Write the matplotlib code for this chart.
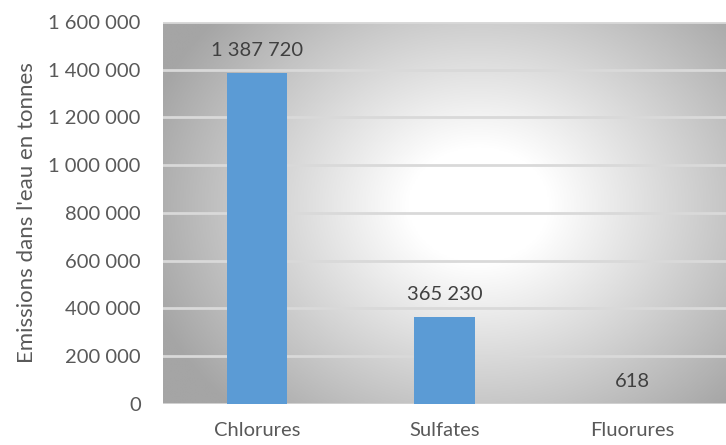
import numpy as np
import matplotlib.pyplot as plt
from matplotlib.colors import LinearSegmentedColormap

categories = ["Chlorures", "Sulfates", "Fluorures"]
emissions = [1387720, 365230, 618]
y_ticks = [0, 200000, 400000, 600000, 800000, 1000000, 1200000, 1400000, 1600000]


def fmt(v):
    return f"{v:,}".replace(",", " ")


plt.rcParams["font.family"] = ["Lato", "DejaVu Sans"]
text_col = "#595959"

fig = plt.figure(figsize=(7.26, 4.45), dpi=100)
ax = fig.add_axes([0.2245, 0.092, 0.7755, 0.859])

# fond en dégradé radial (blanc au centre, gris sur les bords)
nx, ny = 400, 300
gx, gy = np.meshgrid(np.linspace(0, 1, nx), np.linspace(0, 1, ny))
d = np.sqrt(((gx - 0.56) / 0.62) ** 2 + ((gy - 0.52) / 0.75) ** 2)
d = np.clip((d - 0.2) / 0.8, 0, 1)
cmap = LinearSegmentedColormap.from_list("bg", ["#ffffff", "#a5a5a5"])
ax.imshow(d, cmap=cmap, vmin=0, vmax=1, extent=[0, 1, 0, 1], origin="lower",
          transform=ax.transAxes, aspect="auto", zorder=0, interpolation="bilinear")

x = np.arange(len(categories))
bars = ax.bar(x, emissions, width=0.32, color="#5b9bd5", zorder=3)

for b, v in zip(bars, emissions):
    ax.annotate(fmt(v), (b.get_x() + b.get_width() / 2, v), xytext=(0, 10),
                textcoords="offset points", ha="center", va="bottom",
                fontsize=14.5, color="#404040", zorder=4)

ax.set_xlim(-0.5, 2.5)
ax.set_ylim(0, 1600000)
ax.set_yticks(y_ticks)
ax.set_yticklabels([fmt(t) for t in y_ticks])
ax.set_xticks(x)
ax.set_xticklabels(categories)
ax.yaxis.grid(True, color="#d9d9d9", linewidth=2, zorder=1)
ax.set_axisbelow(True)
for s in ax.spines.values():
    s.set_visible(False)
ax.axhline(0, color="#d0d0d0", linewidth=2, zorder=2)
ax.tick_params(axis="both", length=0, labelsize=14.5, labelcolor=text_col)
ax.tick_params(axis="x", pad=13)
ax.tick_params(axis="y", pad=16)
ax.set_ylabel("Emissions dans l'eau en tonnes", fontsize=16, color=text_col, labelpad=8)

fig.savefig("out.png", dpi=100)
